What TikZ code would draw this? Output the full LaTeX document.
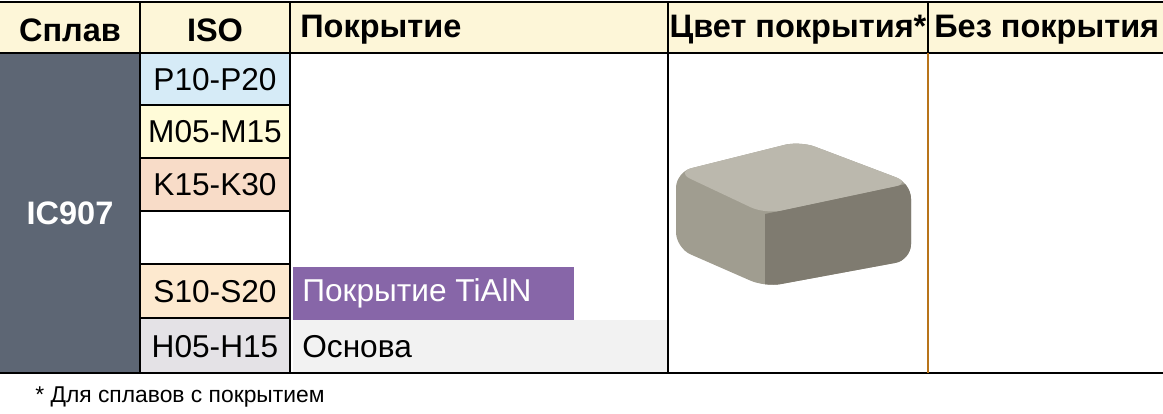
\documentclass[tikz,border=0pt]{standalone}
\usepackage{fontspec}
\setmainfont{Liberation Sans}
\usetikzlibrary{positioning}
\definecolor{headfill}{HTML}{FDF6D8}
\definecolor{alloyfill}{HTML}{5D6674}
\definecolor{pfill}{HTML}{D6EBF7}
\definecolor{mfill}{HTML}{FFFBD8}
\definecolor{kfill}{HTML}{F8DCC8}
\definecolor{sfill}{HTML}{FDE9CF}
\definecolor{hfill}{HTML}{E4E2E6}
\definecolor{tialn}{HTML}{8766A8}
\definecolor{basefill}{HTML}{F2F2F2}
\definecolor{divider}{HTML}{B8741A}
\definecolor{topface}{HTML}{BBB8AD}
\definecolor{leftface}{HTML}{A09D90}
\definecolor{rightface}{HTML}{7F7B70}
\tikzstyle{head} = [font=\fontsize{18.5}{18}\selectfont\bfseries, inner sep=0pt]
\tikzstyle{iso} = [font=\fontsize{18}{18}\selectfont, inner sep=0pt]
\tikzstyle{grid} = [line width=1.2pt, black]
\begin{document}
\begin{tikzpicture}[x=0.02cm, y=-0.02cm]
    \useasboundingbox (0,0) rectangle (1163,413);
    % header and body fills
    \fill[headfill] (0,2) rectangle (1163,53);
    \fill[alloyfill] (0,53) rectangle (140,373);
    \fill[pfill] (140,53) rectangle (290,105);
    \fill[mfill] (140,105) rectangle (290,158);
    \fill[kfill] (140,158) rectangle (290,211);
    \fill[sfill] (140,264) rectangle (290,318);
    \fill[hfill] (140,318) rectangle (290,373);
    \fill[tialn] (293,267) rectangle (574,320);
    \fill[basefill] (293,320) rectangle (668,373);
    % grid
    \draw[grid] (0,2) -- (1163,2);
    \draw[grid] (0,53) -- (1163,53);
    \draw[grid] (0,373) -- (1163,373);
    \draw[grid] (140,2) -- (140,373);
    \draw[grid] (290,2) -- (290,373);
    \draw[grid] (668,2) -- (668,373);
    \draw[grid] (928,2) -- (928,53);
    \draw[line width=1.2pt, divider] (928,53) -- (928,373);
    \foreach \y in {105,158,211,264,318}
        \draw[grid] (140,\y) -- (290,\y);
    % headers
    \node[head] (alloy) at (70,30) {Сплав};
    \node[head] (iso) at (215,30) {ISO};
    \node[head, anchor=west] (coat) at (300,30) {Покрытие};
    \node[head] (color) at (798,30) {Цвет покрытия*};
    \node[head, anchor=west] (nocoat) at (934,30) {Без покрытия};
    % rows
    \node[head, white] (grade) at (70,213) {IC907};
    \node[iso] (p) at (215,80) {P10-P20};
    \node[iso] (m) at (215,132) {M05-M15};
    \node[iso] (k) at (215,185) {K15-K30};
    \node[iso] (s) at (215,292) {S10-S20};
    \node[iso] (h) at (215,347) {H05-H15};
    \node[iso, white, anchor=west] (layer) at (302,293) {Покрытие TiAlN};
    \node[iso, anchor=west] (base) at (302,347) {Основа};
    % insert
    \begin{scope}
        \clip[rounded corners=9pt] (676,172) -- (800,141) -- (911,183) -- (911,260) -- (765,287) -- (676,248) -- cycle;
        \fill[leftface] (670,130) rectangle (920,300);
        \fill[rightface] (765,214) -- (920,181) -- (920,300) -- (765,300) -- cycle;
    \end{scope}
    \fill[topface, rounded corners=9pt] (676,172) -- (800,141) -- (911,183) -- (765,214) -- cycle;
    % footnote
    \node[font=\fontsize{13}{13}\selectfont, anchor=west, inner sep=0pt] (note) at (35,397) {* Для сплавов с покрытием};
\end{tikzpicture}
\end{document}
